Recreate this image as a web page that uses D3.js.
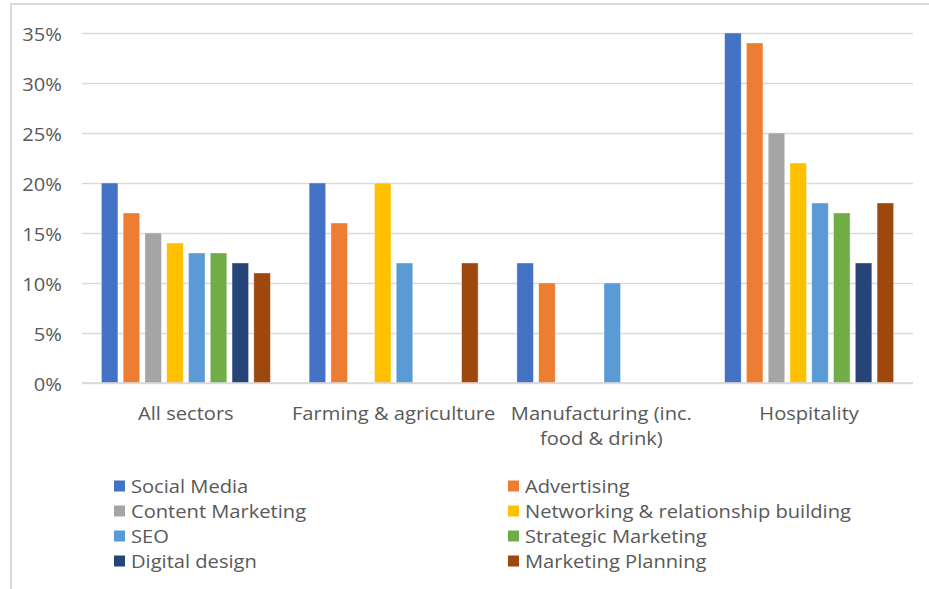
<!DOCTYPE html>
<html>
<head>
<meta charset="utf-8">
<script src="https://cdn.jsdelivr.net/npm/d3@7"></script>
<style>
  html, body { margin: 0; padding: 0; background: #fff; }
  svg { display: block; }
  text { font-family: "Open Sans", Lato, "Liberation Sans", sans-serif; fill: #595959; }
</style>
</head>
<body>
<svg id="chart" width="929" height="589"></svg>
<script>
// Sectors along the x axis (third entry wraps onto two lines)
const categories = [
  ["All sectors"],
  ["Farming & agriculture"],
  ["Manufacturing (inc.", "food & drink)"],
  ["Hospitality"]
];
const categoryKeys = ["All sectors", "Farming & agriculture", "Manufacturing (inc. food & drink)", "Hospitality"];

// Skill areas (series), in legend order
const seriesNames = [
  "Social Media", "Advertising", "Content Marketing", "Networking & relationship building",
  "SEO", "Strategic Marketing", "Digital design", "Marketing Planning"
];
const seriesColors = ["#4472C4", "#ED7D31", "#A5A5A5", "#FFC000", "#5B9BD5", "#70AD47", "#264478", "#9E480E"];

// Share of businesses (%) per sector, one array per series; null = no bar
const socialMedia   = [20, 20, 12, 35];
const advertising   = [17, 16, 10, 34];
const contentMkt    = [15, null, null, 25];
const networking    = [14, 20, null, 22];
const seo           = [13, 12, 10, 18];
const strategicMkt  = [13, null, null, 17];
const digitalDesign = [12, null, null, 12];
const mktPlanning   = [11, 12, null, 18];
const seriesValues = [socialMedia, advertising, contentMkt, networking, seo, strategicMkt, digitalDesign, mktPlanning];

const yTicks = [0, 5, 10, 15, 20, 25, 30, 35];

// Text is set slightly widened to mimic the report's typeface proportions
const FONT = "18.3px";
const STRETCH = 1.1;
const svg = d3.select("#chart");

// Frame around the chart area
svg.append("path")
  .attr("d", "M11,589 V4 H929")
  .attr("fill", "none")
  .attr("stroke", "#d9d9d9")
  .attr("stroke-width", 2);

const plot = { left: 82, right: 913, top: 33, bottom: 383 };

const x = d3.scaleBand()
  .domain(categoryKeys)
  .range([plot.left, plot.right])
  .paddingInner(0)
  .paddingOuter(0);

const xInner = d3.scaleBand()
  .domain(seriesNames)
  .range([0, x.bandwidth()])
  .paddingInner(0.24)
  .paddingOuter(0.89);

const y = d3.scaleLinear()
  .domain([0, 35])
  .range([plot.bottom, plot.top]);

// Horizontal gridlines and percentage labels
const yAxis = d3.axisLeft(y)
  .tickValues(yTicks)
  .tickSize(-(plot.right - plot.left))
  .tickPadding(20)
  .tickFormat(d => d + "%");

const yG = svg.append("g")
  .attr("transform", `translate(${plot.left},0)`)
  .call(yAxis);
yG.select(".domain").remove();
yG.selectAll(".tick line")
  .attr("stroke", "#d9d9d9")
  .attr("stroke-width", 1.5);
yG.selectAll(".tick text")
  .attr("fill", "#595959")
  .attr("x", -20 / STRETCH)
  .attr("dy", null)
  .attr("dominant-baseline", "central")
  .attr("transform", `scale(${STRETCH},1)`)
  .style("font-family", "'Open Sans', Lato, sans-serif")
  .style("font-size", FONT);

// Bars
const groups = svg.append("g")
  .selectAll("g")
  .data(categoryKeys)
  .join("g")
  .attr("transform", d => `translate(${x(d)},0)`);

groups.selectAll("rect")
  .data((cat, ci) => seriesNames
    .map((s, si) => ({ series: s, color: seriesColors[si], value: seriesValues[si][ci] }))
    .filter(d => d.value != null))
  .join("rect")
  .attr("x", d => xInner(d.series))
  .attr("width", xInner.bandwidth())
  .attr("y", d => y(d.value))
  .attr("height", d => y(0) - y(d.value))
  .attr("fill", d => d.color)
  .attr("stroke", "#ffffff")
  .attr("stroke-opacity", 0.5)
  .attr("stroke-width", 0.75);

// Baseline
svg.append("line")
  .attr("x1", plot.left).attr("x2", plot.right)
  .attr("y1", y(0)).attr("y2", y(0))
  .attr("stroke", "#d9d9d9")
  .attr("stroke-width", 1.5);

// Category labels
const catLabels = svg.append("g")
  .selectAll("g")
  .data(categoryKeys)
  .join("g")
  .attr("transform", d => `translate(${x(d) + x.bandwidth() / 2},412) scale(${STRETCH},1)`)
  .append("text")
  .attr("text-anchor", "middle")
  .attr("dominant-baseline", "central")
  .style("font-size", FONT);
catLabels.each(function (d, i) {
  d3.select(this).selectAll("tspan")
    .data(categories[i])
    .join("tspan")
    .attr("x", 0)
    .attr("y", (t, j) => j * 25)
    .text(t => t);
});

// Legend: two columns, four rows
const legend = svg.append("g");
const legendItems = legend.selectAll("g")
  .data(seriesNames)
  .join("g")
  .attr("transform", (d, i) => `translate(${i % 2 === 0 ? 114 : 508},${486 + Math.floor(i / 2) * 25})`);
legendItems.append("rect")
  .attr("x", 0).attr("y", -5.5)
  .attr("width", 11).attr("height", 11)
  .attr("fill", (d, i) => seriesColors[i]);
legendItems.append("text")
  .attr("x", 17 / STRETCH)
  .attr("y", 0)
  .attr("transform", `scale(${STRETCH},1)`)
  .attr("dominant-baseline", "central")
  .style("font-size", FONT)
  .text(d => d);
</script>
</body>
</html>
